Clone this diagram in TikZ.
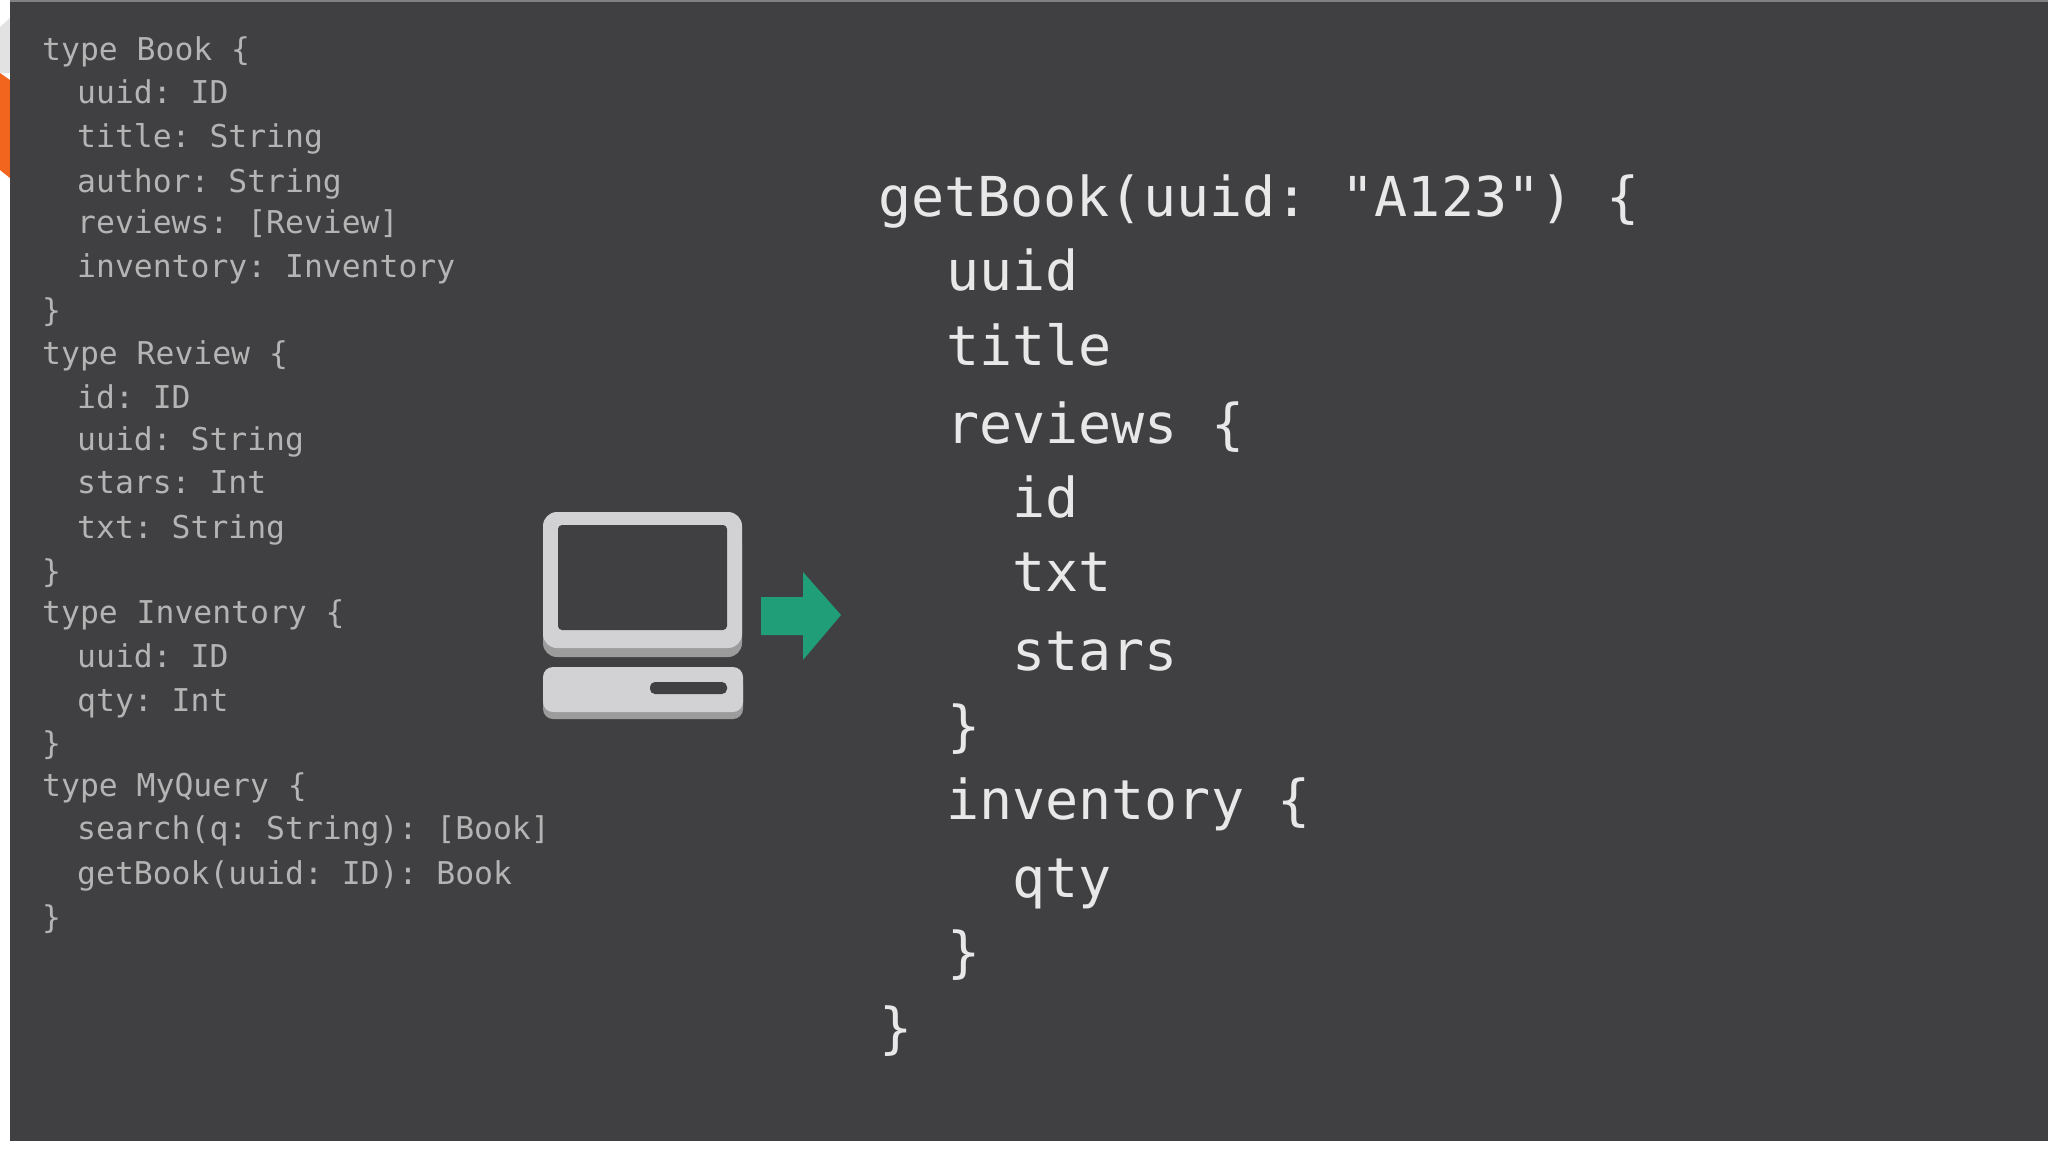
\documentclass[tikz,border=0pt]{standalone}
\usepackage{fontspec}
\setmonofont{DejaVu Sans Mono}
\definecolor{slidebg}{HTML}{403F41}
\definecolor{schematext}{HTML}{B4B4B4}
\definecolor{querytext}{HTML}{E8E8E8}
\definecolor{iconface}{HTML}{D2D2D4}
\definecolor{iconshade}{HTML}{9C9C9C}
\definecolor{arrowgreen}{HTML}{1F9E78}
\definecolor{tabgray}{HTML}{E2E2E2}
\definecolor{taborange}{HTML}{F2651F}
\tikzset{
	schemaline/.style={anchor=base west, inner sep=0pt, text=schematext, font=\ttfamily\fontsize{31.4}{31.4}\selectfont},
	queryline/.style={anchor=base west, inner sep=0pt, text=querytext, font=\ttfamily\fontsize{55}{55}\selectfont},
}

\begin{document}
\begin{tikzpicture}[x=1pt, y=-1pt]
	\useasboundingbox (0, 0) rectangle (2048, 1152);
	\fill[white] (0, 0) rectangle (2048, 1152);
	\fill[tabgray] (0, 27) -- (10, 18) -- (10, 73) -- (0, 73) -- cycle;
	\fill[taborange] (0, 73) -- (10, 80) -- (10, 178) -- (0, 170) -- cycle;
	\fill[slidebg] (10, 0) rectangle (2048, 1141);
	\fill[gray] (10, 0) rectangle (2048, 2);

	\foreach \y/\x/\txt [count=\n] in {
		60/42/{type Book \{}, 103/77/{uuid: ID}, 147/77/{title: String}, 192/77/{author: String},
		233/77/{reviews: [Review]}, 277/77/{inventory: Inventory}, 321/42/{\}},
		364/42/{type Review \{}, 408/77/{id: ID}, 450/77/{uuid: String}, 493/77/{stars: Int},
		538/77/{txt: String}, 582/42/{\}},
		623/42/{type Inventory \{}, 667/77/{uuid: ID}, 711/77/{qty: Int}, 754/42/{\}},
		796/42/{type MyQuery \{}, 839/77/{search(q: String): [Book]}, 884/77/{getBook(uuid: ID): Book}, 928/42/{\}}
	}
		\node[schemaline] (schema\n) at (\x, \y) {\txt};

	\foreach \y/\x/\txt [count=\n] in {
		216/878/{getBook(uuid: "A123") \{}, 290/946/{uuid}, 365/946/{title}, 443/946/{reviews \{},
		517/1012/{id}, 591/1012/{txt}, 670/1012/{stars}, 745/947/{\}},
		819/946/{inventory \{}, 897/1012/{qty}, 971/947/{\}}, 1047/879/{\}}
	}
		\node[queryline] (query\n) at (\x, \y) {\txt};

	\fill[iconshade, rounded corners=14pt] (543, 530) rectangle (742, 657);
	\fill[iconface, rounded corners=14pt] (543, 512) rectangle (742, 648);
	\fill[slidebg, rounded corners=4pt] (558, 525) rectangle (727, 630);
	\fill[iconshade, rounded corners=10pt] (543, 675) rectangle (743, 719);
	\fill[iconface, rounded corners=10pt] (543, 667) rectangle (743, 712);
	\fill[slidebg, rounded corners=5pt] (650, 682) rectangle (727, 694);

	\fill[arrowgreen] (761, 597) -- (803, 597) -- (803, 572) -- (841, 615) -- (803, 660) -- (803, 635) -- (761, 635) -- cycle;
\end{tikzpicture}
\end{document}
